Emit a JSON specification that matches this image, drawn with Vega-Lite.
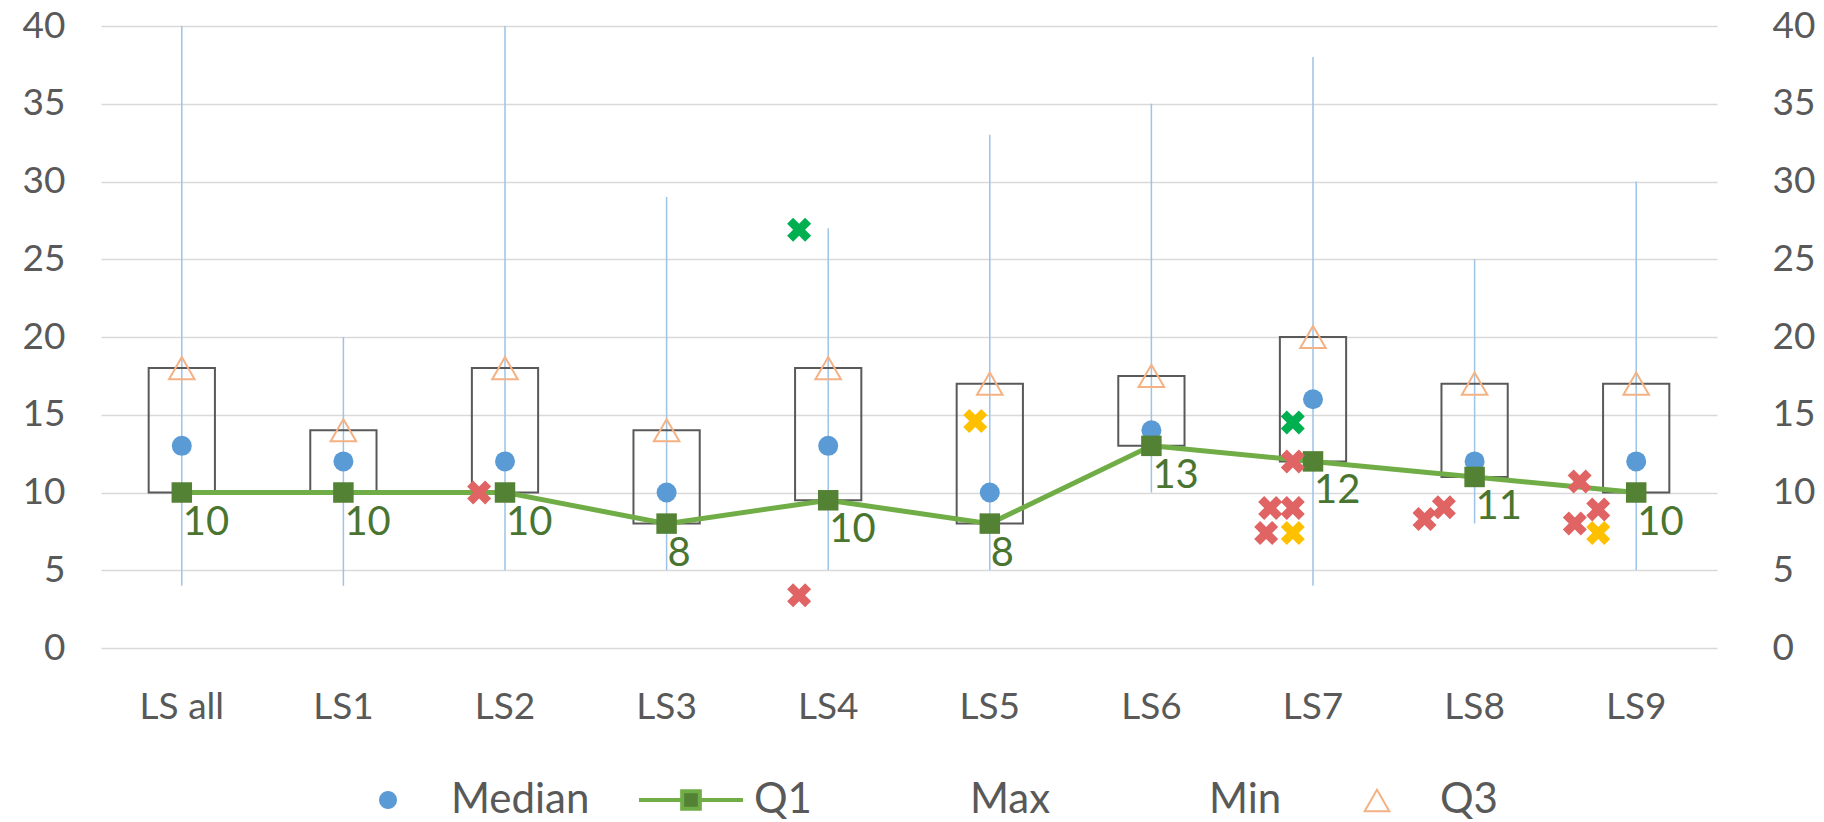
{
  "$schema": "https://vega.github.io/schema/vega-lite/v6.json",
  "width": 1616,
  "height": 622,
  "autosize": {"type": "none"},
  "padding": {"left": 101, "top": 26, "right": 107, "bottom": 174},
  "background": "white",
  "config": {"view": {"stroke": null}, "font": "Lato"},
  "datasets": {
    "stats": [
      {"cat": "LS all", "min": 4, "max": 40, "median": 13, "q1": 10, "q3": 18},
      {"cat": "LS1", "min": 4, "max": 20, "median": 12, "q1": 10, "q3": 14},
      {"cat": "LS2", "min": 5, "max": 40, "median": 12, "q1": 10, "q3": 18},
      {"cat": "LS3", "min": 5, "max": 29, "median": 10, "q1": 8, "q3": 14},
      {"cat": "LS4", "min": 5, "max": 27, "median": 13, "q1": 9.5, "q3": 18},
      {"cat": "LS5", "min": 5, "max": 33, "median": 10, "q1": 8, "q3": 17},
      {"cat": "LS6", "min": 10, "max": 35, "median": 14, "q1": 13, "q3": 17.5},
      {"cat": "LS7", "min": 4, "max": 38, "median": 16, "q1": 12, "q3": 20},
      {"cat": "LS8", "min": 8, "max": 25, "median": 12, "q1": 11, "q3": 17},
      {"cat": "LS9", "min": 5, "max": 30, "median": 12, "q1": 10, "q3": 17}
    ],
    "outliers": [
      {"cat": "LS2", "value": 10, "kind": "red", "jit": -0.16},
      {"cat": "LS4", "value": 26.9, "kind": "green", "jit": -0.18},
      {"cat": "LS4", "value": 3.4, "kind": "red", "jit": -0.18},
      {"cat": "LS5", "value": 14.6, "kind": "yellow", "jit": -0.09},
      {"cat": "LS7", "value": 14.5, "kind": "green", "jit": -0.125},
      {"cat": "LS7", "value": 12, "kind": "red", "jit": -0.125},
      {"cat": "LS7", "value": 9, "kind": "red", "jit": -0.265},
      {"cat": "LS7", "value": 9, "kind": "red", "jit": -0.125},
      {"cat": "LS7", "value": 7.4, "kind": "red", "jit": -0.29},
      {"cat": "LS7", "value": 7.4, "kind": "yellow", "jit": -0.125},
      {"cat": "LS8", "value": 8.3, "kind": "red", "jit": -0.31},
      {"cat": "LS8", "value": 9.05, "kind": "red", "jit": -0.19},
      {"cat": "LS9", "value": 10.7, "kind": "red", "jit": -0.35},
      {"cat": "LS9", "value": 8.9, "kind": "red", "jit": -0.235},
      {"cat": "LS9", "value": 8, "kind": "red", "jit": -0.38},
      {"cat": "LS9", "value": 7.4, "kind": "yellow", "jit": -0.235}
    ],
    "legend": [
      {"s": "Median"}, {"s": "Q1"}, {"s": "Max"}, {"s": "Min"}, {"s": "Q3"}
    ]
  },
  "resolve": {"axis": {"y": "independent"}, "scale": {"xOffset": "independent"}},
  "layer": [
    {
      "data": {"name": "stats"},
      "mark": {"type": "rule", "color": "#9DC3E6", "strokeWidth": 1.5},
      "encoding": {
        "x": {
          "field": "cat", "type": "nominal", "sort": null,
          "scale": {"paddingInner": 0, "paddingOuter": 0},
          "axis": {"title": null, "labelAngle": 0, "labelFontSize": 37, "labelColor": "#595959", "labelFont": "Lato", "ticks": false, "tickSize": 0, "domain": false, "grid": false, "labelPadding": 59, "labelBaseline": "middle"}
        },
        "y": {
          "field": "min", "type": "quantitative",
          "scale": {"domain": [0, 40], "nice": false, "zero": true},
          "axis": {"orient": "left", "title": null, "values": [0, 5, 10, 15, 20, 25, 30, 35, 40], "labelFontSize": 37, "labelColor": "#595959", "labelFont": "Lato", "ticks": false, "tickSize": 0, "domain": false, "grid": true, "gridColor": "#D9D9D9", "gridWidth": 1.5, "labelPadding": 36}
        },
        "y2": {"field": "max"}
      }
    },
    {
      "data": {"name": "stats"},
      "mark": {"type": "bar", "width": {"band": 0.41}, "fillOpacity": 0, "fill": "white", "stroke": "#595959", "strokeWidth": 2},
      "encoding": {
        "x": {"field": "cat", "type": "nominal", "sort": null},
        "y": {
          "field": "q1", "type": "quantitative",
          "axis": {"orient": "right", "title": null, "values": [0, 5, 10, 15, 20, 25, 30, 35, 40], "labelFontSize": 37, "labelColor": "#595959", "labelFont": "Lato", "ticks": false, "tickSize": 0, "domain": false, "grid": false, "labelPadding": 55}
        },
        "y2": {"field": "q3"}
      }
    },
    {
      "data": {"name": "stats"},
      "mark": {"type": "point", "shape": "circle", "filled": true, "color": "#5B9BD5", "opacity": 1, "size": 400},
      "encoding": {
        "x": {"field": "cat", "type": "nominal", "sort": null},
        "y": {"field": "median", "type": "quantitative", "axis": null}
      }
    },
    {
      "data": {"name": "stats"},
      "mark": {"type": "line", "color": "#70AD47", "strokeWidth": 5},
      "encoding": {
        "x": {"field": "cat", "type": "nominal", "sort": null},
        "y": {"field": "q1", "type": "quantitative", "axis": null}
      }
    },
    {
      "data": {"name": "stats"},
      "mark": {"type": "point", "shape": "square", "filled": true, "color": "#548235", "opacity": 1, "size": 420},
      "encoding": {
        "x": {"field": "cat", "type": "nominal", "sort": null},
        "y": {"field": "q1", "type": "quantitative", "axis": null}
      }
    },
    {
      "data": {"name": "stats"},
      "mark": {"type": "point", "shape": "triangle-up", "filled": false, "color": "#F4B183", "strokeWidth": 2, "opacity": 1, "size": 650},
      "encoding": {
        "x": {"field": "cat", "type": "nominal", "sort": null},
        "y": {"field": "q3", "type": "quantitative", "axis": null}
      }
    },
    {
      "data": {"name": "outliers"},
      "mark": {"type": "point", "shape": "M-1,-0.5L-0.5,-1L0,-0.5L0.5,-1L1,-0.5L0.5,0L1,0.5L0.5,1L0,0.5L-0.5,1L-1,0.5L-0.5,0Z", "filled": true, "opacity": 1, "size": 576},
      "encoding": {
        "x": {"field": "cat", "type": "nominal", "sort": null},
        "xOffset": {"field": "jit", "type": "quantitative", "scale": {"domain": [-0.5, 0.5]}},
        "y": {"field": "value", "type": "quantitative", "axis": null},
        "color": {"field": "kind", "type": "nominal", "scale": {"domain": ["red", "green", "yellow"], "range": ["#E06464", "#00B050", "#FFC000"]}, "legend": null}
      }
    },
    {
      "data": {"name": "stats"},
      "mark": {"type": "text", "align": "left", "baseline": "middle", "dx": 1, "dy": 30, "fontSize": 40, "font": "Lato", "color": "#4A7530"},
      "encoding": {
        "x": {"field": "cat", "type": "nominal", "sort": null},
        "y": {"field": "q1", "type": "quantitative", "axis": null},
        "text": {"field": "q1", "type": "quantitative", "format": ".0f"}
      }
    },
    {
      "data": {"name": "legend"},
      "mark": {"type": "point", "filled": true, "opacity": 0, "strokeWidth": 4},
      "encoding": {
        "fill": {
          "field": "s", "type": "nominal",
          "scale": {"domain": ["Median", "Q1", "Max", "Min", "Q3"], "range": ["#5B9BD5", "#548235", "transparent", "transparent", "#F4B183"]},
          "legend": {"title": null, "orient": "none", "direction": "horizontal", "columns": 5, "legendX": 233, "legendY": 720, "symbolSize": 10816, "symbolStrokeWidth": 4, "symbolOpacity": 1, "labelFontSize": 42, "labelFont": "Lato", "labelColor": "#595959", "labelOffset": 9, "columnPadding": 41, "padding": 0}
        },
        "stroke": {
          "field": "s", "type": "nominal",
          "scale": {"domain": ["Median", "Q1", "Max", "Min", "Q3"], "range": ["transparent", "#70AD47", "transparent", "transparent", "transparent"]},
          "legend": {"title": null, "orient": "none", "direction": "horizontal", "columns": 5, "legendX": 233, "legendY": 720, "symbolSize": 10816, "symbolStrokeWidth": 4, "symbolOpacity": 1, "labelFontSize": 42, "labelFont": "Lato", "labelColor": "#595959", "labelOffset": 9, "columnPadding": 41, "padding": 0}
        },
        "shape": {
          "field": "s", "type": "nominal",
          "scale": {"domain": ["Median", "Q1", "Max", "Min", "Q3"], "range": [
            "M0.173,0A0.173,0.173,0,1,1,-0.173,0A0.173,0.173,0,1,1,0.173,0Z",
            "M-1,0H-0.17M0.17,0H1M-0.17,-0.17H0.17V0.17H-0.17Z",
            "M0.1,0A0.1,0.1,0,1,1,-0.1,0A0.1,0.1,0,1,1,0.1,0Z",
            "M0.1,0A0.1,0.1,0,1,1,-0.1,0A0.1,0.1,0,1,1,0.1,0Z",
            "M0,-0.235L0.27,0.235L-0.27,0.235ZM0,-0.158L-0.203,0.196L0.203,0.196Z"
          ]},
          "legend": {"title": null, "orient": "none", "direction": "horizontal", "columns": 5, "legendX": 233, "legendY": 720, "symbolSize": 10816, "symbolStrokeWidth": 4, "symbolOpacity": 1, "labelFontSize": 42, "labelFont": "Lato", "labelColor": "#595959", "labelOffset": 9, "columnPadding": 41, "padding": 0}
        }
      }
    }
  ]
}
